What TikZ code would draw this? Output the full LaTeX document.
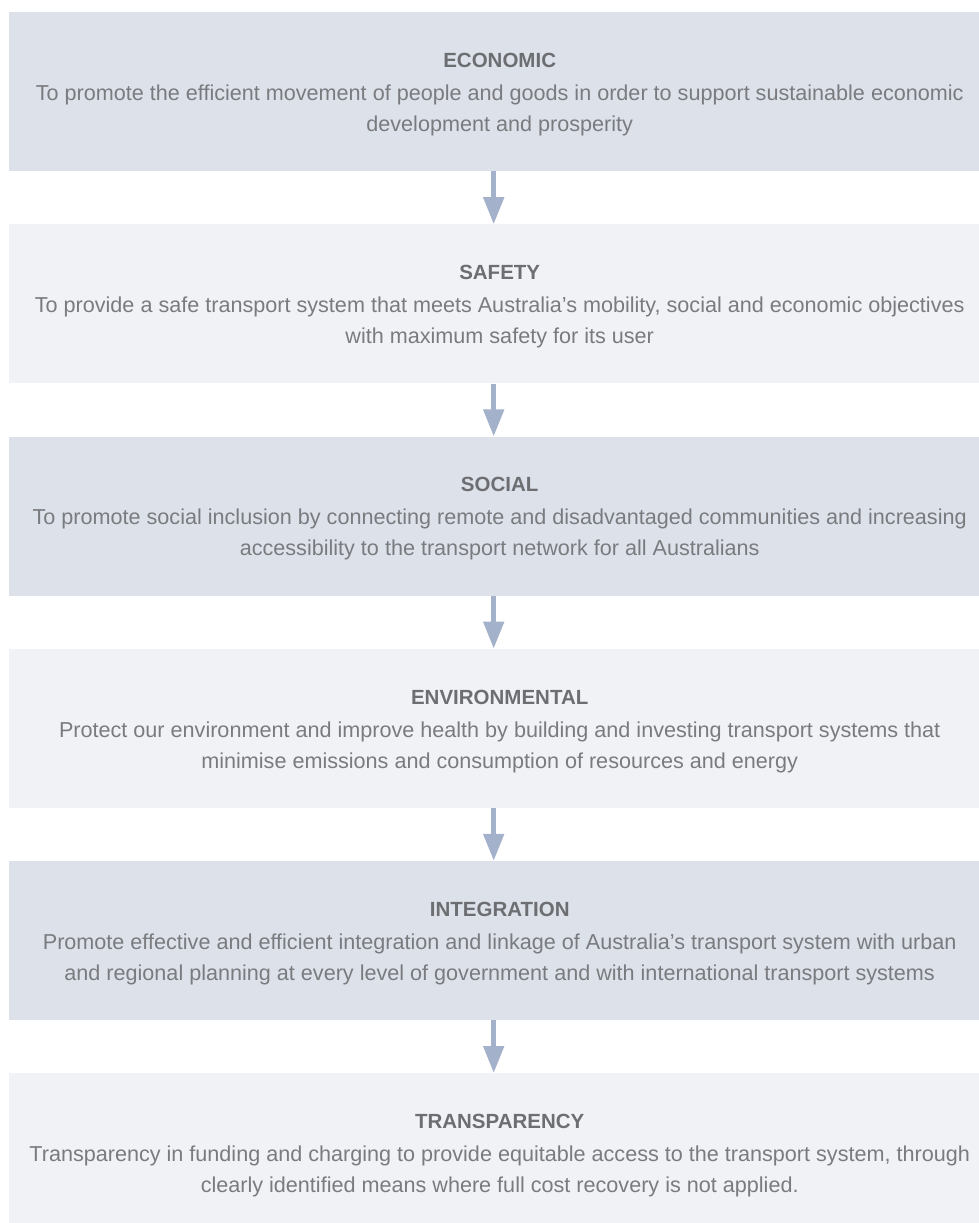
\documentclass[tikz,border=0pt]{standalone}
\usepackage{fontspec}
\setmainfont{Liberation Sans}
\usepackage{xcolor}
\usepackage{tikz}
\usetikzlibrary{math,arrows.meta}

\definecolor{boxdark}{HTML}{DCE1EA}
\definecolor{boxlight}{HTML}{F0F2F6}
\definecolor{arrowblue}{HTML}{A3B1CA}
\definecolor{headgrey}{HTML}{6D6E72}
\definecolor{textgrey}{HTML}{7A7B7F}
\newcommand{\headfont}{\fontsize{20.5}{31}\selectfont\bfseries\color{headgrey}}

\begin{document}
\begin{tikzpicture}[x=1pt,y=-1pt,
	box/.style={minimum width=981pt,minimum height=159pt,anchor=north west,inner sep=0},
	dark/.style={box,fill=boxdark},
	light/.style={box,fill=boxlight},
	txt/.style={anchor=north,inner sep=0,align=center,text=textgrey,
		font=\fontsize{21.6}{31}\selectfont,yshift=-41pt},
	flow/.style={draw=arrowblue,line width=5pt,-{Triangle[width=20pt,length=27pt]}}]
\useasboundingbox (0,0) rectangle (979,1223);
\tikzmath{
	\ox = 9;\tp = 12;\gap = 212.2;\dx = -6;
	{\node[dark] (eco) at (\ox,\tp) {};};
	{\node[light] (safe) at (\ox,\tp+\gap) {};};
	{\node[dark] (soc) at (\ox,\tp+2*\gap) {};};
	{\node[light] (env) at (\ox,\tp+3*\gap) {};};
	{\node[dark] (integ) at (\ox,\tp+4*\gap) {};};
	{\node[light] (transp) at (\ox,\tp+5*\gap) {};};
	%
	{\node[txt] (ecot) at (eco.north) {{\headfont ECONOMIC}\\[2pt]
		To promote the efficient movement of people and goods in order to support sustainable economic\\
		development and prosperity};};
	{\node[txt] (safet) at (safe.north) {{\headfont SAFETY}\\[2pt]
		To provide a safe transport system that meets Australia’s mobility, social and economic objectives\\
		with maximum safety for its user};};
	{\node[txt] (soct) at (soc.north) {{\headfont SOCIAL}\\[2pt]
		To promote social inclusion by connecting remote and disadvantaged communities and increasing\\
		accessibility to the transport network for all Australians};};
	{\node[txt] (envt) at (env.north) {{\headfont ENVIRONMENTAL}\\[2pt]
		Protect our environment and improve health by building and investing transport systems that\\
		minimise emissions and consumption of resources and energy};};
	{\node[txt] (integt) at (integ.north) {{\headfont INTEGRATION}\\[2pt]
		Promote effective and efficient integration and linkage of Australia’s transport system with urban\\
		and regional planning at every level of government and with international transport systems};};
	{\node[txt] (transpt) at (transp.north) {{\headfont TRANSPARENCY}\\[2pt]
		Transparency in funding and charging to provide equitable access to the transport system, through\\
		clearly identified means where full cost recovery is not applied.};};
	%
	{\draw[flow] ([xshift=\dx pt]eco.south) -- ([xshift=\dx pt]safe.north);};
	{\draw[flow] ([xshift=\dx pt]safe.south) -- ([xshift=\dx pt]soc.north);};
	{\draw[flow] ([xshift=\dx pt]soc.south) -- ([xshift=\dx pt]env.north);};
	{\draw[flow] ([xshift=\dx pt]env.south) -- ([xshift=\dx pt]integ.north);};
	{\draw[flow] ([xshift=\dx pt]integ.south) -- ([xshift=\dx pt]transp.north);};
};
\end{tikzpicture}
\end{document}
